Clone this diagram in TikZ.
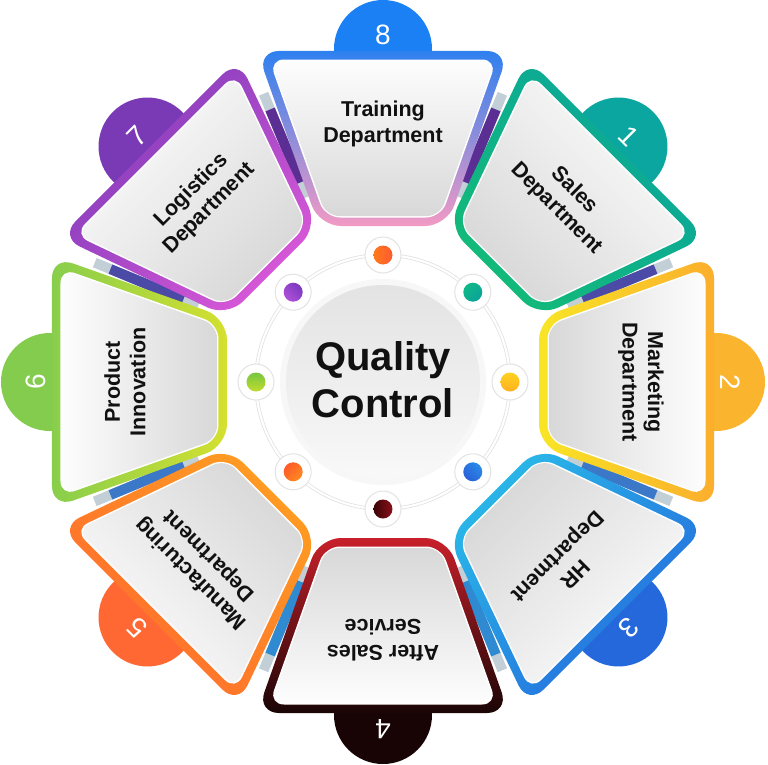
\documentclass[tikz,border=0pt]{standalone}
\usepackage{fontspec}
\setmainfont{Liberation Sans}
\definecolor{out8}{HTML}{2F80EF}\definecolor{in8}{HTML}{F29AC4}\definecolor{tab8}{HTML}{1A80F3}
\definecolor{out1}{HTML}{0AA59E}\definecolor{in1}{HTML}{13BA78}\definecolor{tab1}{HTML}{0BA69F}
\definecolor{out2}{HTML}{FBAE2C}\definecolor{in2}{HTML}{F8E526}\definecolor{tab2}{HTML}{FBB42E}
\definecolor{out3}{HTML}{2566DC}\definecolor{in3}{HTML}{29B8E8}\definecolor{tab3}{HTML}{2468DC}
\definecolor{out4}{HTML}{1A0505}\definecolor{in4}{HTML}{C8202A}\definecolor{tab4}{HTML}{180404}
\definecolor{out5}{HTML}{FF682E}\definecolor{in5}{HTML}{FF9C22}\definecolor{tab5}{HTML}{FF6833}
\definecolor{out6}{HTML}{88CE4C}\definecolor{in6}{HTML}{D4E030}\definecolor{tab6}{HTML}{84CC4E}
\definecolor{out7}{HTML}{7A3AB8}\definecolor{in7}{HTML}{D858D8}\definecolor{tab7}{HTML}{7A3AB6}
\definecolor{segtop}{HTML}{FDFDFD}\definecolor{segbot}{HTML}{D8D8D8}
\definecolor{bargrey}{HTML}{C3CFD6}
\definecolor{barA}{HTML}{4B4AA6}\definecolor{barB}{HTML}{5A2E92}
\definecolor{barC}{HTML}{3C78C8}\definecolor{barD}{HTML}{2F8AD2}
\definecolor{dot8a}{HTML}{FF7A1A}\definecolor{dot8b}{HTML}{FF5A30}
\definecolor{dot1a}{HTML}{10B888}\definecolor{dot1b}{HTML}{0AA39A}
\definecolor{dot2a}{HTML}{FFD21F}\definecolor{dot2b}{HTML}{FFB020}
\definecolor{dot3a}{HTML}{2A8AE8}\definecolor{dot3b}{HTML}{2A60D8}
\definecolor{dot4a}{HTML}{8A1018}\definecolor{dot4b}{HTML}{3A0508}
\definecolor{dot5a}{HTML}{FF8A20}\definecolor{dot5b}{HTML}{FF5A2A}
\definecolor{dot6a}{HTML}{C0DC30}\definecolor{dot6b}{HTML}{78C640}
\definecolor{dot7a}{HTML}{B050D8}\definecolor{dot7b}{HTML}{7A38C0}
\definecolor{txt}{HTML}{111111}
\tikzset{
  numtxt/.style={text=white, font=\fontsize{28}{30}\selectfont, inner sep=0pt},
  lbltxt/.style={text=txt, font=\bfseries\fontsize{21.5}{25.5}\selectfont, align=center, inner sep=0pt},
  bargreystyle/.style={line width=10pt, bargrey},
}
\newcommand\qcseg[4]{%
  \pgfmathsetmacro\qcang{#1-90}%
  \begin{scope}[rotate=\qcang]
    \fill[tab#2] (0,333) circle (49);
    \shade[top color=out#2, bottom color=in#2, shading angle=\qcang, rounded corners=22pt]
      (-64,156) -- (-126,331) -- (126,331) -- (64,156) -- cycle;
    \fill[white, rounded corners=15pt]
      (-58,164.5) -- (-114,322.5) -- (114,322.5) -- (58,164.5) -- cycle;
    \shade[top color=segtop, bottom color=segbot, shading angle=\qcang, rounded corners=13pt]
      (-56.9,166) -- (-111.85,321) -- (111.85,321) -- (56.9,166) -- cycle;
    \node[numtxt, rotate=\qcang] (num#2) at (0,347) {#3};
    \node[lbltxt, rotate=\qcang] (lab#2) at (0,258) {#4};
  \end{scope}}
\newcommand\qcbar[2]{%
  \draw[bargreystyle] (#1:200) -- (#1:312);
  \draw[line width=10pt, #2] (#1:216) -- (#1:295);}
\newcommand\qcdot[2]{%
  \fill[white] (#1:127) circle (18);
  \draw[gray!22, line width=1pt] (#1:127) circle (18);
  \shade[top color=dot#2a, bottom color=dot#2b, shading angle=#1] (#1:127) circle (9.5);}
\begin{document}
\begin{tikzpicture}[x=1pt,y=1pt]
\useasboundingbox (-383,-382) rectangle (385,382);
\fill[white] (-383,-382) rectangle (385,382);
% connecting bars
\qcbar{22.5}{barA}
\qcbar{67.5}{barB}
\qcbar{112.5}{barB}
\qcbar{157.5}{barA}
\qcbar{202.5}{barC}
\qcbar{247.5}{barD}
\qcbar{292.5}{barD}
\qcbar{337.5}{barC}
% segments
\qcseg{90}{8}{8}{Training\\Department}
\qcseg{45}{1}{1}{Sales\\Department}
\qcseg{0}{2}{2}{Marketing\\Department}
\qcseg{-45}{3}{3}{HR\\Department}
\qcseg{-90}{4}{4}{After Sales\\Service}
\qcseg{-135}{5}{5}{Manufacturing\\Department}
\qcseg{180}{6}{6}{Product\\Innovation}
\qcseg{135}{7}{7}{Logistics\\Department}
% centre
\draw[gray!25, line width=0.7pt, double=white, double distance=2.2pt] (0,0) circle (127);
\fill[gray!6] (0,0) circle (103);
\shade[top color=gray!22, bottom color=gray!5] (0,0) circle (97);
\qcdot{90}{8}
\qcdot{45}{1}
\qcdot{0}{2}
\qcdot{-45}{3}
\qcdot{-90}{4}
\qcdot{-135}{5}
\qcdot{180}{6}
\qcdot{135}{7}
\node[text=txt, font=\bfseries\fontsize{40}{47}\selectfont, align=center, inner sep=0pt] (qc) at (0,2) {Quality\\Control};
\end{tikzpicture}
\end{document}
